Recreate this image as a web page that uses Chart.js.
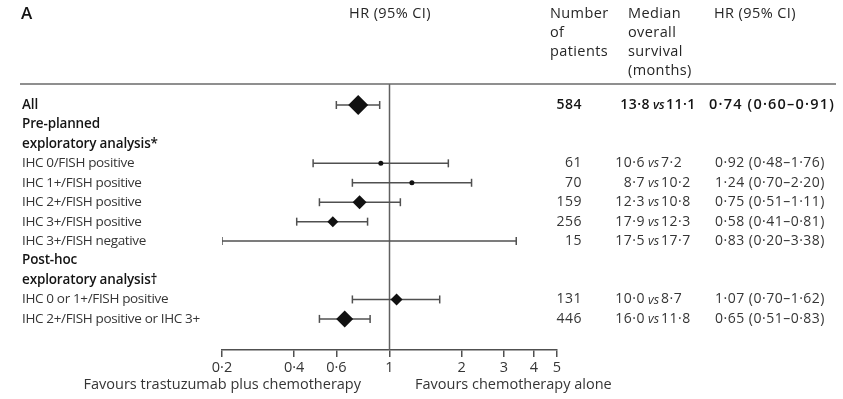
<!DOCTYPE html>
<html>
<head>
<meta charset="utf-8">
<script src="https://cdn.jsdelivr.net/npm/chart.js@4.4.1/dist/chart.umd.min.js"></script>
<style>
  html, body { margin: 0; padding: 0; background: #ffffff; }
  #wrap { width: 843px; height: 399px; position: relative; }
</style>
</head>
<body>
<div id="wrap"><canvas id="c" width="843" height="399"></canvas></div>
<script>
// ---- data ----
const rowLabels = ['All', 'Pre-planned', 'exploratory analysis*', 'IHC 0/FISH positive', 'IHC 1+/FISH positive',
  'IHC 2+/FISH positive', 'IHC 3+/FISH positive', 'IHC 3+/FISH negative', 'Post-hoc', 'exploratory analysis\u2020',
  'IHC 0 or 1+/FISH positive', 'IHC 2+/FISH positive or IHC 3+'];
const boldRows = [0, 1, 2, 8, 9];
const hrValues = [0.74, null, null, 0.92, 1.24, 0.75, 0.58, 0.83, null, null, 1.07, 0.65];
const ciLow    = [0.60, null, null, 0.48, 0.70, 0.51, 0.41, 0.20, null, null, 0.70, 0.51];
const ciHigh   = [0.91, null, null, 1.76, 2.20, 1.11, 0.81, 3.38, null, null, 1.62, 0.83];
const patients = ['584', '', '', '61', '70', '159', '256', '15', '', '', '131', '446'];
const osTrastuzumab = ['13\u00b78', '', '', '10\u00b76', '8\u00b77', '12\u00b73', '17\u00b79', '17\u00b75', '', '', '10\u00b70', '16\u00b70'];
const osChemo       = ['11\u00b71', '', '', '7\u00b72', '10\u00b72', '10\u00b78', '12\u00b73', '17\u00b77', '', '', '8\u00b77', '11\u00b78'];
const hrText = ['0\u00b774 (0\u00b760\u20130\u00b791)', '', '', '0\u00b792 (0\u00b748\u20131\u00b776)', '1\u00b724 (0\u00b770\u20132\u00b720)',
  '0\u00b775 (0\u00b751\u20131\u00b711)', '0\u00b758 (0\u00b741\u20130\u00b781)', '0\u00b783 (0\u00b720\u20133\u00b738)', '', '',
  '1\u00b707 (0\u00b770\u20131\u00b762)', '0\u00b765 (0\u00b751\u20130\u00b783)'];
const tickValues = [0.2, 0.4, 0.6, 1, 2, 3, 4, 5];
const tickLabels = ['0\u00b72', '0\u00b74', '0\u00b76', '1', '2', '3', '4', '5'];
// marker style per row (as seen in the picture)
const markerStyle = ['rectRot', null, null, 'circle', 'circle', 'rectRot', 'rectRot', 'circle', null, null, 'rectRot', 'rectRot'];
const markerRadius = [10, 0, 0, 2.5, 2.5, 7, 5.5, 0, 0, 0, 6, 8.5];

// ---- chart ----
const FONT = '"Open Sans", "DejaVu Sans", sans-serif';
const TXT = '#353535';
const BOLD = '#141414';
const LINE = '#505050';

const datasets = [];
// confidence-interval lines with end caps
rowLabels.forEach((lab, i) => {
  if (hrValues[i] === null) return;
  datasets.push({
    type: 'line',
    data: [{x: ciLow[i], y: i}, {x: ciHigh[i], y: i}],
    borderColor: LINE,
    borderWidth: 1.5,
    pointStyle: 'line',
    rotation: 90,
    pointRadius: 4,
    pointBorderColor: LINE,
    pointBorderWidth: 1.5,
    showLine: true,
    order: 2
  });
});
// reference line at HR = 1
datasets.push({
  type: 'line',
  data: [{x: 1, y: -1.08}, {x: 1, y: 12.6}],
  borderColor: '#606060',
  borderWidth: 1.5,
  pointRadius: 0,
  showLine: true,
  order: 3
});
// point estimates
rowLabels.forEach((lab, i) => {
  if (hrValues[i] === null || markerRadius[i] === 0) return;
  datasets.push({
    type: 'scatter',
    data: [{x: hrValues[i], y: i}],
    pointStyle: markerStyle[i],
    pointRadius: markerRadius[i],
    backgroundColor: '#111111',
    borderColor: '#111111',
    borderWidth: 0,
    order: 1
  });
});

function setFont(ctx, f, spacing) {
  ctx.font = f;
  if ('letterSpacing' in ctx) ctx.letterSpacing = (spacing || 0) + 'px';
}

const tablePlugin = {
  id: 'table',
  afterDraw(chart) {
    const ctx = chart.ctx;
    const ys = chart.scales.y;
    ctx.save();
    // top separator
    ctx.strokeStyle = '#6a6a6a';
    ctx.lineWidth = 1.5;
    ctx.beginPath();
    ctx.moveTo(20, chart.chartArea.top);
    ctx.lineTo(836, chart.chartArea.top);
    ctx.stroke();

    ctx.textBaseline = 'middle';
    const label = '13.5px ' + FONT;
    const labelBold = '600 13.5px ' + FONT;
    const num = '14px ' + FONT;
    const numBold = '600 14px ' + FONT;
    // headers
    ctx.fillStyle = BOLD;
    setFont(ctx, '600 17px ' + FONT, 0);
    ctx.textAlign = 'left';
    ctx.fillText('A', 21, 14);
    ctx.fillStyle = '#262626';
    setFont(ctx, '14.5px ' + FONT, 0.4);
    ctx.textAlign = 'center';
    ctx.fillText('HR (95% CI)', 390, 14);
    ctx.textAlign = 'left';
    ['Number', 'of', 'patients'].forEach((t, k) => ctx.fillText(t, 550, 14 + k * 19));
    ['Median', 'overall', 'survival', '(months)'].forEach((t, k) => ctx.fillText(t, 628, 14 + k * 19));
    ctx.fillText('HR (95% CI)', 714, 14);

    rowLabels.forEach((lab, i) => {
      const y = ys.getPixelForValue(i);
      const isBold = boldRows.includes(i);
      setFont(ctx, isBold ? labelBold : label, isBold ? -0.15 : -0.35);
      ctx.fillStyle = isBold ? BOLD : TXT;
      ctx.textAlign = 'left';
      ctx.fillText(lab, 22, y);
      setFont(ctx, isBold ? numBold : num, 0.5);
      if (patients[i]) {
        ctx.textAlign = 'right';
        ctx.fillText(patients[i], 582, y);
      }
      if (osTrastuzumab[i]) {
        const lx = isBold ? 650 : 645;
        ctx.textAlign = 'right';
        ctx.fillText(osTrastuzumab[i], lx, y);
        setFont(ctx, (isBold ? 'italic 600 ' : 'italic ') + '12.5px ' + FONT, 0);
        ctx.textAlign = 'left';
        ctx.fillText('vs', lx + 3, y + 0.5);
        setFont(ctx, isBold ? numBold : num, 0.5);
        ctx.fillText(osChemo[i], lx + 16, y);
      }
      if (hrText[i]) {
        ctx.textAlign = 'left';
        if (isBold) setFont(ctx, '600 14.5px ' + FONT, 1.2);
        ctx.fillText(hrText[i], isBold ? 709 : 715, y);
      }
    });
    // favours labels
    setFont(ctx, '14.5px ' + FONT, 0);
    ctx.fillStyle = TXT;
    ctx.textAlign = 'right';
    ctx.fillText('Favours trastuzumab plus chemotherapy', 361, 385);
    ctx.textAlign = 'left';
    ctx.fillText('Favours chemotherapy alone', 415, 385);
    ctx.restore();
  }
};

new Chart(document.getElementById('c'), {
  data: { datasets },
  options: {
    responsive: false,
    animation: false,
    devicePixelRatio: 1,
    layout: { padding: { left: 222, right: 286, top: 84, bottom: 19 } },
    plugins: { legend: { display: false }, tooltip: { enabled: false } },
    scales: {
      x: {
        type: 'logarithmic',
        min: 0.2,
        max: 5,
        afterBuildTicks: (scale) => { scale.ticks = tickValues.map(v => ({ value: v })); },
        afterFit: (scale) => { scale.height = 30; },
        ticks: {
          autoSkip: false,
          maxRotation: 0,
          padding: 2,
          color: TXT,
          font: { family: FONT, size: 14.5 },
          callback: (v) => { const k = tickValues.indexOf(v); return k >= 0 ? tickLabels[k] : ''; }
        },
        grid: { display: true, drawOnChartArea: false, drawTicks: true, tickLength: 7, color: LINE, lineWidth: 1.5 },
        border: { display: true, color: LINE, width: 1.5 }
      },
      y: {
        type: 'linear',
        reverse: true,
        min: -1.08,
        max: 12.6,
        display: false
      }
    }
  },
  plugins: [tablePlugin]
});
</script>
</body>
</html>
